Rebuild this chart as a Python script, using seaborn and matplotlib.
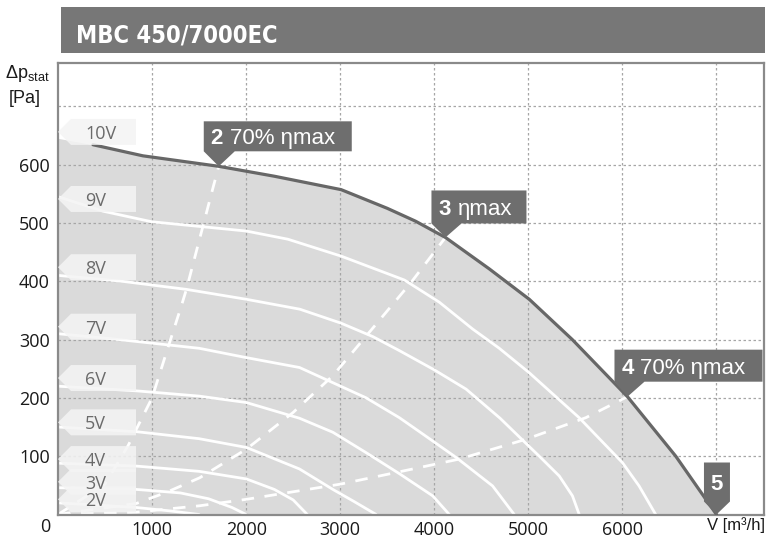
import matplotlib
matplotlib.use("Agg")
import matplotlib.pyplot as plt
from matplotlib import font_manager
from matplotlib.patches import Polygon, Rectangle
import pandas as pd
import seaborn as sns

# values (V in m3/h, dp_stat in Pa)
speed_labels = ["10V", "9V", "8V", "7V", "6V", "5V", "4V", "3V", "2V"]
label_levels = [656, 541, 424, 322, 234, 158, 95, 56, 26]

flow_10v = [0, 372, 902, 1709, 2300, 3010, 3500, 3800, 4119, 4586, 5010, 5467, 6054, 6567, 7000]
dp_10v = [645, 634, 615, 597, 580, 557, 525, 503, 475, 421, 369, 300, 202, 100, 0]

flow_9v = [0, 480, 994, 1500, 2002, 2444, 3010, 3683, 4054, 4408, 4691, 5010, 5540, 6000, 6177, 6354]
dp_9v = [545, 520, 502, 494, 486, 472, 443, 402, 364, 318, 285, 243, 166, 89, 49, 0]

flow_8v = [0, 675, 1365, 2002, 2571, 3010, 3347, 3629, 4000, 4338, 4700, 5000, 5116, 5329, 5469, 5541]
dp_8v = [410, 400, 386, 369, 352, 328, 305, 281, 248, 215, 165, 118, 100, 66, 32, 0]

flow_7v = [0, 587, 1500, 2002, 2568, 3276, 3629, 3807, 4231, 4620, 4850]
dp_7v = [310, 301, 285, 269, 252, 200, 166, 146, 98, 49, 0]

flow_6v = [0, 834, 1500, 2002, 2568, 2922, 3276, 3629, 3983, 4160]
dp_6v = [220, 212, 203, 192, 165, 141, 106, 70, 32, 0]

flow_5v = [0, 834, 1500, 2002, 2568, 2922, 3150, 3382]
dp_5v = [150, 142, 130, 115, 78, 43, 22, 0]

flow_4v = [0, 834, 1500, 2002, 2300, 2500, 2650]
dp_4v = [88, 83, 74, 61, 43, 25, 0]

flow_3v = [0, 834, 1300, 1600, 1850, 2000]
dp_3v = [46, 43, 37, 27, 12, 0]

flow_2v = [0, 834, 1200, 1500]
dp_2v = [20, 12, 6, 0]

# system curves through the efficiency points
flow_eff2 = [0, 500, 745, 1000, 1153, 1312, 1365, 1649, 1709]
dp_eff2 = [0, 52, 118, 200, 278, 358, 386, 561, 597]
flow_eff3 = [0, 834, 1153, 1507, 2002, 2500, 2922, 3276, 3754, 4119]
dp_eff3 = [0, 19, 38, 63, 112, 175, 238, 306, 398, 475]
flow_eff4 = [0, 834, 1507, 2002, 3000, 3594, 4266, 4975, 5611, 6054]
dp_eff4 = [0, 4, 15, 26, 52, 72, 95, 129, 166, 202]

callout_flow = [1709, 4119, 6054, 7000]
callout_dp = [597, 475, 202, 0]
callout_num = ["2", "3", "4", "5"]
callout_text = ["70% ηmax", "ηmax", "70% ηmax", ""]

x_ticks = [1000, 2000, 3000, 4000, 5000, 6000, 7000]
x_ticklabels = ["1000", "2000", "3000", "4000", "5000", "6000", ""]
y_ticks = [100, 200, 300, 400, 500, 600, 700]
y_ticklabels = ["100", "200", "300", "400", "500", "600", ""]

# --- style ---
sns.set_style("white")
plt.rcParams["font.family"] = ["Open Sans", "DejaVu Sans"]
plt.rcParams["mathtext.fontset"] = "custom"
plt.rcParams["mathtext.rm"] = "Liberation Sans"
plt.rcParams["mathtext.it"] = "Liberation Sans:italic"
plt.rcParams["mathtext.bf"] = "Liberation Sans:bold"
arial = ["Liberation Sans", "DejaVu Sans"]

# a narrow bold face for the title, if one is installed
title_font = None
for key, size in [("LiberationSansNarrow-Bold", 20), ("DejaVuSansCondensed-Bold", 17),
                  ("RobotoCondensed-Bold", 19), ("Roboto-Bold", 18)]:
    hits = [f.fname for f in font_manager.fontManager.ttflist if key.lower() in f.fname.lower().replace(" ", "")]
    if hits:
        title_font = font_manager.FontProperties(fname=hits[0], size=size)
        break
if title_font is None:
    title_font = font_manager.FontProperties(family="Roboto", weight="bold", size=18)

W, H = 768, 540
fig = plt.figure(figsize=(W / 100, H / 100), dpi=100)
ax_l, ax_r, ax_t, ax_b = 58, 763.5, 62.5, 514.5
ax = fig.add_axes([ax_l / W, (H - ax_b) / H, (ax_r - ax_l) / W, (ax_b - ax_t) / H])
XMAX, YMAX = 7500, 775
ax.set_xlim(0, XMAX)
ax.set_ylim(0, YMAX)
px_x = (ax_r - ax_l) / XMAX
px_y = (ax_b - ax_t) / YMAX


def shift(x, y, dx, dy):
    # move a data point by (dx, dy) pixels, dy upwards
    return (x + dx / px_x, y + dy / px_y)


# operating area under the 10V curve
ax.fill_between(flow_10v, dp_10v, 0, color="#dadada", lw=0, zorder=0.2)

curves = pd.concat([
    pd.DataFrame({"flow": f, "dp": p, "speed": s})
    for f, p, s in [(flow_9v, dp_9v, "9V"), (flow_8v, dp_8v, "8V"), (flow_7v, dp_7v, "7V"),
                    (flow_6v, dp_6v, "6V"), (flow_5v, dp_5v, "5V"), (flow_4v, dp_4v, "4V"),
                    (flow_3v, dp_3v, "3V"), (flow_2v, dp_2v, "2V")]
])
sns.lineplot(data=curves, x="flow", y="dp", hue="speed", units="speed", estimator=None,
             palette={s: "white" for s in curves["speed"].unique()}, legend=False,
             sort=False, lw=2.0, ax=ax, zorder=2)

for f, p in [(flow_eff2, dp_eff2), (flow_eff3, dp_eff3), (flow_eff4, dp_eff4)]:
    sns.lineplot(x=f, y=p, color="white", lw=2.0, linestyle=(0, (4.5, 3.8)),
                 sort=False, ax=ax, zorder=2.5)

# the outline starts where it leaves the 10V label
sns.lineplot(x=flow_10v[1:], y=dp_10v[1:], color="#676767", lw=2.3, sort=False, ax=ax, zorder=3)

# speed labels (arrow boxes at the left edge)
for lab, lev in zip(speed_labels, label_levels):
    pts = [shift(0, lev, 0, 0), shift(0, lev, 13, 13), shift(0, lev, 78, 13),
           shift(0, lev, 78, -13), shift(0, lev, 13, -13)]
    ax.add_patch(Polygon(pts, closed=True, fc="#f4f4f4", ec="none", alpha=0.85, zorder=4))
    tx, ty = shift(0, lev, 27, 0)
    ax.text(tx, ty, lab, fontsize=13, color="#6b6b6b", ha="left", va="center_baseline", zorder=5)

# callouts for the efficiency points
box_geom = [(-15, 133, 15, 45, 16), (-14, 81, 14, 47, 16), (-13, 135, 15, 47, 17), (-12.5, 13.5, 13, 52, 13.5)]
renderer = fig.canvas.get_renderer()
for cx, cy, num, txt, (le, ri, bo, to, pr) in zip(callout_flow, callout_dp, callout_num, callout_text, box_geom):
    pts = [shift(cx, cy, le, to), shift(cx, cy, ri, to), shift(cx, cy, ri, bo), shift(cx, cy, pr, bo),
           shift(cx, cy, 0, 0), shift(cx, cy, le, bo)]
    ax.add_patch(Polygon(pts, closed=True, fc="#6e6e6e", ec="none", zorder=6, clip_on=False))
    mid = (bo + to) / 2
    if txt:
        tx, ty = shift(cx, cy, le + 7.5, mid)
        t = ax.text(tx, ty, num + " ", fontsize=16, fontweight="bold", color="white", family=arial,
                    ha="left", va="center_baseline", zorder=7, clip_on=False)
        wpx = t.get_window_extent(renderer).width
        tx2, _ = shift(cx, cy, le + 7.5 + wpx, mid)
        ax.text(tx2, ty, txt, fontsize=16, color="white", family=arial,
                ha="left", va="center_baseline", zorder=7, clip_on=False)
    else:
        tx, ty = shift(cx, cy, 0.5, mid)
        ax.text(tx, ty, num, fontsize=16, fontweight="bold", color="white", family=arial,
                ha="center", va="center_baseline", zorder=7, clip_on=False)

# axes, ticks and grid
ax.set_xticks(x_ticks)
ax.set_xticklabels(x_ticklabels)
ax.set_yticks(y_ticks)
ax.set_yticklabels(y_ticklabels)
ax.tick_params(axis="both", length=0, labelsize=13, labelcolor="#1a1a1a")
ax.tick_params(axis="x", pad=5)
ax.tick_params(axis="y", pad=6)
ax.set_axisbelow(True)
ax.grid(True, color="#a6a6a6", lw=0.9, linestyle=(0, (2, 2)))
for sp in ax.spines.values():
    sp.set_color("#8a8a8a")
    sp.set_linewidth(1.6)
ax.set_xlabel("")
ax.set_ylabel("")

fig.text(45 / W, (H - 527) / H, "0", fontsize=13, color="#1a1a1a", ha="center", va="center")
fig.text(707 / W, (H - 525.5) / H, "V [m³/h]", fontsize=12, color="#1a1a1a", family=arial,
         ha="left", va="center")
fig.text(5 / W, (H - 78.5) / H, r"$\mathrm{\Delta p_{stat}}$", fontsize=13, color="#1a1a1a",
         ha="left", va="baseline")
fig.text(9 / W, (H - 103) / H, "[Pa]", fontsize=13, color="#1a1a1a", family=arial,
         ha="left", va="baseline")

# title bar
fig.add_artist(Rectangle((61 / W, (H - 52.7) / H), (765 - 61) / W, 45.7 / H,
                         transform=fig.transFigure, fc="#777777", ec="none"))
fig.text(76.5 / W, (H - 42.5) / H, "MBC 450/7000EC", fontproperties=title_font,
         color="white", ha="left", va="baseline")

fig.savefig("out.png", dpi=100)
